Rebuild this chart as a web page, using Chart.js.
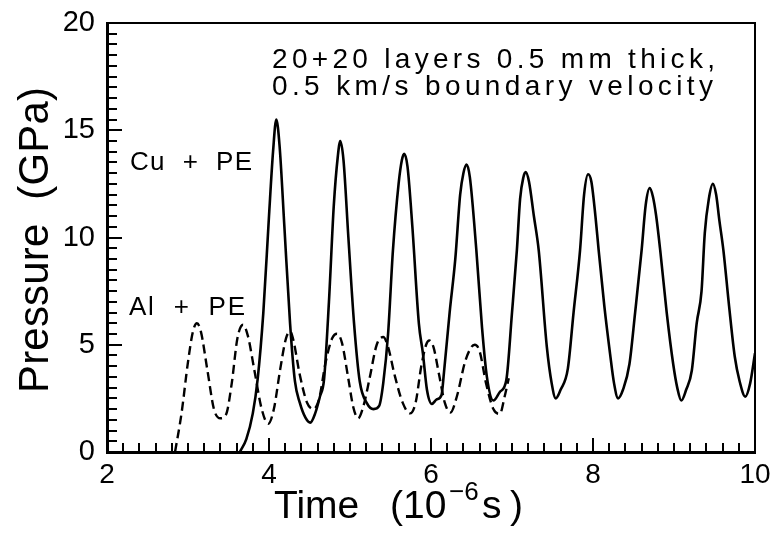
<!DOCTYPE html>
<html>
<head>
<meta charset="utf-8">
<script src="https://cdn.jsdelivr.net/npm/chart.js@4.4.1/dist/chart.umd.min.js"></script>
</head>
<body style="margin:0">
<canvas id="chart" width="776" height="534"></canvas>
<script>
// ============================================
// DATA
// ============================================
const cuTime = [3.64, 3.72, 3.80, 3.86, 3.93, 4.00, 4.05, 4.09, 4.13, 4.19, 4.26, 4.32, 4.38, 4.45, 4.51,
  4.57, 4.63, 4.68, 4.74, 4.80, 4.85, 4.88, 4.92, 4.98, 5.05, 5.12, 5.21, 5.29, 5.36,
  5.41, 5.47, 5.53, 5.60, 5.64, 5.67, 5.71, 5.77, 5.85, 5.90, 5.95, 6.01, 6.07, 6.13,
  6.16, 6.23, 6.30, 6.36, 6.40, 6.44, 6.48, 6.56, 6.63, 6.69, 6.77, 6.85, 6.93,
  7.00, 7.06, 7.10, 7.14, 7.17, 7.21, 7.27, 7.33, 7.43, 7.49, 7.54, 7.60, 7.69,
  7.76, 7.84, 7.89, 7.94, 7.98, 8.03, 8.07, 8.14, 8.21, 8.26, 8.31, 8.37, 8.45,
  8.52, 8.60, 8.65, 8.70, 8.74, 8.78, 8.83, 8.91, 8.99, 9.04, 9.09, 9.15, 9.22,
  9.28, 9.34, 9.38, 9.43, 9.48, 9.52, 9.56, 9.61, 9.68, 9.75, 9.81, 9.88, 9.94, 10.0];
const cuPressure = [0, 0.6, 1.8, 3.4, 6.5, 11, 14, 15.5, 14.3, 10.5, 6, 3.3, 2.3, 1.6, 1.37,
  1.8, 2.6, 3.4, 7, 11.5, 13.8, 14.5, 13.6, 10, 6, 3.3, 2.27, 2.0, 2.15,
  3.2, 5.5, 9.4, 12.5, 13.6, 13.9, 13.3, 10.5, 6, 4.6, 2.9, 2.24, 2.45, 2.66,
  3.7, 6.5, 9.0, 12.0, 13.0, 13.4, 12.8, 9.4, 5.8, 3.5, 2.4, 2.8, 3.36,
  6.5, 9.4, 11.8, 12.8, 13.05, 12.6, 11, 9.4, 4.9, 3.2, 2.5, 2.9, 3.9,
  6.5, 9.4, 12, 12.95, 12.6, 11, 9.4, 6.8, 4.6, 3.2, 2.5, 2.9, 4.1,
  6.5, 9.4, 11.5, 12.3, 11.9, 11, 9.4, 6.5, 4.1, 3.0, 2.4, 2.9, 3.8,
  6, 7.5, 10.2, 11.8, 12.5, 12, 10.8, 9.4, 6.8, 4.45, 3.3, 2.58, 3.2, 4.6];

const alTime = [2.84, 2.92, 3.00, 3.06, 3.11, 3.16, 3.24, 3.32, 3.40, 3.47, 3.54, 3.61, 3.68,
  3.74, 3.82, 3.91, 3.99, 4.06, 4.14, 4.21, 4.26, 4.30, 4.38, 4.47, 4.55, 4.62, 4.70,
  4.78, 4.84, 4.90, 4.98, 5.04, 5.10, 5.17, 5.24, 5.33, 5.41, 5.47, 5.55, 5.65, 5.74,
  5.81, 5.88, 5.94, 5.98, 6.03, 6.10, 6.17, 6.24, 6.32, 6.42, 6.50, 6.54, 6.60, 6.68,
  6.77, 6.85, 6.91, 6.96];
const alPressure = [0, 1.8, 4.2, 5.6, 6.0, 5.6, 3.8, 2.0, 1.57, 1.75, 3.2, 5.3, 5.93,
  5.4, 3.8, 2.0, 1.31, 2.0, 3.9, 5.3, 5.62, 5.23, 3.6, 2.3, 2.0, 2.5, 4.2,
  5.3, 5.51, 5.1, 3.4, 2.1, 1.57, 2.2, 3.4, 5.0, 5.36, 4.9, 3.6, 2.3, 1.8,
  2.3, 4.0, 5.0, 5.2, 4.9, 3.6, 2.3, 1.84, 2.6, 4.2, 4.9, 5.0, 4.7, 3.2,
  2.0, 1.78, 2.6, 3.44];

const xTicks = [2, 4, 6, 8, 10];
const yTicks = [0, 5, 10, 15, 20];
const xMinorStep = 0.2;
const yMinorStep = 0.5;

const FONT = "'Liberation Sans', Arial, sans-serif";

function toPoints(xs, ys) {
  return xs.map((x, i) => ({ x: x, y: ys[i] }));
}

// draw text stretched with extra letter spacing to fill a width
function drawSpaced(c, text, x, y, width) {
  const chars = Array.from(text);
  const widths = chars.map(ch => c.measureText(ch).width);
  const natural = widths.reduce((p, q) => p + q, 0);
  const extra = chars.length > 1 ? (width - natural) / (chars.length - 1) : 0;
  let cx = x;
  chars.forEach((ch, i) => {
    c.fillText(ch, cx, y);
    cx += widths[i] + extra;
  });
}

// ============================================
// FRAME, LABELS AND INWARD TICKS
// ============================================
const framePlugin = {
  id: 'frame',
  afterDraw(chart) {
    const c = chart.ctx;
    const a = chart.chartArea;
    const xs = chart.scales.x;
    const ys = chart.scales.y;
    c.save();
    c.fillStyle = '#000';

    // top and right edges
    c.fillRect(a.left, a.top - 1, a.right - a.left, 2);
    c.fillRect(a.right - 1, a.top - 1, 2, a.bottom - a.top + 1);

    // annotations
    c.textBaseline = 'alphabetic';
    c.textAlign = 'left';
    c.font = '28px ' + FONT;
    drawSpaced(c, '20+20 layers 0.5 mm thick,', 272, 68, 443);
    drawSpaced(c, '0.5 km/s boundary velocity', 272, 95, 441);
    c.font = '26px ' + FONT;
    drawSpaced(c, 'Cu  +  PE', 130, 170, 122);
    drawSpaced(c, 'Al  +  PE', 129, 315, 116);

    // y title
    c.save();
    c.translate(48, 240);
    c.rotate(-Math.PI / 2);
    c.font = '42px ' + FONT;
    drawSpaced(c, 'Pressure  (GPa)', -153, 0, 306);
    c.restore();

    // x title with superscript
    c.font = '39px ' + FONT;
    c.fillText('Time', 274, 518);
    c.fillText('(10', 390, 518);
    c.fillText('s', 482, 518);
    c.fillText(')', 510, 518);
    c.font = '26px ' + FONT;
    c.fillText('\u22126', 449, 500);

    // inward ticks, major every 10 minor steps
    c.fillStyle = '#000';
    const nx = Math.round((xs.max - xs.min) / xMinorStep);
    for (let i = 0; i <= nx; i++) {
      const px = xs.getPixelForValue(xs.min + i * xMinorStep);
      const len = i % 10 === 0 ? 14 : 9;
      c.fillRect(Math.round(px) - 1, a.bottom - len, 2, len);
    }
    const ny = Math.round((ys.max - ys.min) / yMinorStep);
    for (let i = 0; i <= ny; i++) {
      const py = ys.getPixelForValue(ys.min + i * yMinorStep);
      const len = i % 10 === 0 ? 15 : 10;
      c.fillRect(a.left, Math.round(py) - 1, len, 2);
    }

    c.restore();
  }
};

// ============================================
// CHART
// ============================================
new Chart(document.getElementById('chart'), {
  type: 'line',
  data: {
    datasets: [
      {
        label: 'Cu + PE',
        data: toPoints(cuTime, cuPressure),
        borderColor: '#000',
        borderWidth: 2.6,
        pointRadius: 0,
        fill: false,
        cubicInterpolationMode: 'monotone'
      },
      {
        label: 'Al + PE',
        data: toPoints(alTime, alPressure),
        borderColor: '#000',
        borderWidth: 2.4,
        borderDash: [9, 5],
        pointRadius: 0,
        fill: false,
        cubicInterpolationMode: 'monotone'
      }
    ]
  },
  options: {
    responsive: false,
    animation: false,
    layout: { padding: { top: 23, right: 21, left: 0, bottom: 0 } },
    plugins: {
      legend: { display: false },
      tooltip: { enabled: false }
    },
    scales: {
      x: {
        type: 'linear',
        min: 2,
        max: 10,
        afterBuildTicks: s => { s.ticks = xTicks.map(v => ({ value: v })); },
        afterFit: s => { s.height = 82; s.paddingLeft = 0; s.paddingRight = 0; },
        grid: { display: false, drawTicks: false },
        border: { display: true, color: '#000', width: 3 },
        ticks: {
          color: '#000',
          padding: 6,
          maxRotation: 0,
          font: { family: FONT, size: 28 }
        }
      },
      y: {
        min: 0,
        max: 20,
        afterBuildTicks: s => { s.ticks = yTicks.map(v => ({ value: v })); },
        afterFit: s => { s.width = 107; s.paddingTop = 0; s.paddingBottom = 0; },
        grid: { display: false, drawTicks: false },
        border: { display: true, color: '#000', width: 3 },
        ticks: {
          color: '#000',
          padding: 12,
          font: { family: FONT, size: 29 }
        }
      }
    }
  },
  plugins: [framePlugin]
});
</script>
</body>
</html>
